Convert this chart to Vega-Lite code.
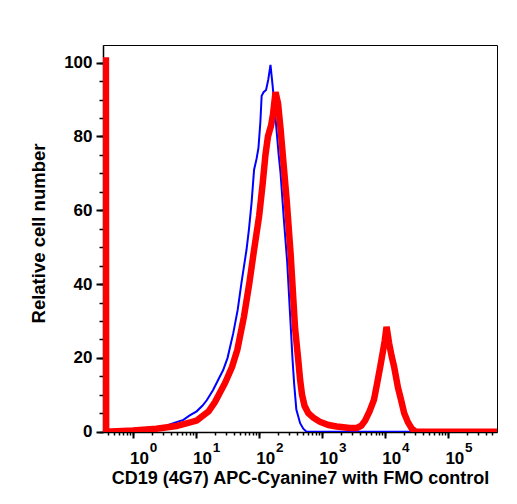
{
  "$schema": "https://vega.github.io/schema/vega-lite/v6.json",
  "width": 394,
  "height": 387,
  "autosize": {"type": "none"},
  "padding": {"left": 103, "top": 45, "right": 20, "bottom": 72},
  "background": "white",
  "config": {
    "font": "Liberation Sans",
    "view": {"stroke": "black", "strokeWidth": 1}
  },
  "datasets": {
    "fmo": [
      {"x": 0.34, "count": 0},
      {"x": 0.631, "count": 0.2},
      {"x": 1.445, "count": 0.9},
      {"x": 3.02, "count": 1.3},
      {"x": 4.365, "count": 2.3},
      {"x": 6.31, "count": 3.2},
      {"x": 7.943, "count": 4.4},
      {"x": 10.23, "count": 5.5},
      {"x": 12.59, "count": 7},
      {"x": 14.79, "count": 8.5},
      {"x": 18.62, "count": 11.3},
      {"x": 22.39, "count": 14},
      {"x": 26.92, "count": 16.7},
      {"x": 31.62, "count": 20},
      {"x": 38.9, "count": 26.7},
      {"x": 45.71, "count": 33},
      {"x": 52.48, "count": 40.3},
      {"x": 63.1, "count": 49.3},
      {"x": 69.18, "count": 55},
      {"x": 75.86, "count": 62},
      {"x": 83.18, "count": 71},
      {"x": 91.2, "count": 74},
      {"x": 97.72, "count": 77},
      {"x": 104.7, "count": 84},
      {"x": 109.6, "count": 91},
      {"x": 117.5, "count": 92},
      {"x": 128.8, "count": 92.6},
      {"x": 139.6, "count": 95.4},
      {"x": 151.4, "count": 99.4},
      {"x": 164.1, "count": 93.6},
      {"x": 177.8, "count": 87},
      {"x": 190.5, "count": 81},
      {"x": 204.2, "count": 75},
      {"x": 218.8, "count": 70},
      {"x": 245.5, "count": 58},
      {"x": 278.6, "count": 46},
      {"x": 309.0, "count": 32},
      {"x": 338.8, "count": 19.5},
      {"x": 358.9, "count": 13},
      {"x": 389.0, "count": 6},
      {"x": 446.7, "count": 2.3},
      {"x": 501.2, "count": 0.8},
      {"x": 562.3, "count": 0},
      {"x": 590000, "count": 0}
    ],
    "stained": [
      {"x": 0.3724, "count": 101.5},
      {"x": 0.3758, "count": 0},
      {"x": 1.0, "count": 0.3},
      {"x": 2.344, "count": 0.8},
      {"x": 4.898, "count": 1.5},
      {"x": 10.23, "count": 3},
      {"x": 15.85, "count": 5.5},
      {"x": 19.95, "count": 8},
      {"x": 28.84, "count": 13.2},
      {"x": 37.15, "count": 17.5},
      {"x": 45.19, "count": 22.2},
      {"x": 57.54, "count": 31.2},
      {"x": 69.98, "count": 40.3},
      {"x": 83.18, "count": 49.3},
      {"x": 100, "count": 58.4},
      {"x": 113.5, "count": 67},
      {"x": 125.9, "count": 75},
      {"x": 138.0, "count": 80},
      {"x": 154.9, "count": 83},
      {"x": 166.0, "count": 86},
      {"x": 182.0, "count": 92},
      {"x": 199.5, "count": 89},
      {"x": 218.8, "count": 82},
      {"x": 239.9, "count": 74},
      {"x": 275.4, "count": 62},
      {"x": 316.2, "count": 48},
      {"x": 371.5, "count": 28},
      {"x": 416.9, "count": 19.5},
      {"x": 446.7, "count": 14},
      {"x": 478.6, "count": 10},
      {"x": 524.8, "count": 7},
      {"x": 602.6, "count": 5},
      {"x": 724.4, "count": 3.8},
      {"x": 912.0, "count": 2.7},
      {"x": 1259, "count": 1.8},
      {"x": 1698, "count": 1.4},
      {"x": 2754, "count": 1.0},
      {"x": 3548, "count": 1.0},
      {"x": 4169, "count": 1.6},
      {"x": 4786, "count": 3},
      {"x": 5623, "count": 5.5},
      {"x": 6607, "count": 8.6},
      {"x": 7413, "count": 13},
      {"x": 8318, "count": 17.6},
      {"x": 9120, "count": 21.5},
      {"x": 9772, "count": 24.5},
      {"x": 10470, "count": 28.4},
      {"x": 11480, "count": 24},
      {"x": 12590, "count": 20.5},
      {"x": 13800, "count": 17.6},
      {"x": 15850, "count": 12},
      {"x": 17780, "count": 8.6},
      {"x": 19950, "count": 5},
      {"x": 22910, "count": 2.5},
      {"x": 26300, "count": 0.8},
      {"x": 30200, "count": 0},
      {"x": 590000, "count": 0}
    ]
  },
  "resolve": {
    "scale": {"x": "independent", "y": "independent"},
    "axis": {"x": "independent", "y": "independent"}
  },
  "layer": [
    {
      "data": {"name": "fmo"},
      "mark": {"type": "line", "color": "#0000ff", "strokeWidth": 2, "clip": true},
      "encoding": {
        "x": {
          "field": "x", "type": "quantitative",
          "scale": {"type": "log", "domain": [0.335, 590000], "nice": false},
          "axis": {
            "orient": "bottom",
            "values": [1, 10, 100, 1000, 10000, 100000],
            "labelExpr": "'10'",
            "tickSize": 6,
            "tickWidth": 2,
            "tickColor": "black",
            "domainColor": "black",
            "domainWidth": 1.5,
            "grid": false,
            "labelFontSize": 17,
            "labelFontWeight": "bold",
            "labelColor": "black",
            "labelBaseline": "alphabetic",
            "labelPadding": 25,
            "labelOffset": 6,
            "labelOverlap": false,
            "labelFlush": false,
            "title": "CD19 (4G7) APC-Cyanine7 with FMO control",
            "titleFontSize": 18,
            "titleFontWeight": "bold",
            "titleColor": "black",
            "titleBaseline": "alphabetic",
            "titleY": 51
          }
        },
        "y": {
          "field": "count", "type": "quantitative",
          "scale": {"domain": [-0.1, 104.8], "nice": false, "zero": false},
          "axis": {
            "orient": "left",
            "values": [0, 20, 40, 60, 80, 100],
            "tickSize": 7,
            "tickWidth": 2,
            "tickColor": "black",
            "domainColor": "black",
            "domainWidth": 1.5,
            "grid": false,
            "labelFontSize": 17,
            "labelFontWeight": "bold",
            "labelColor": "black",
            "labelPadding": 4,
            "labelOverlap": false,
            "labelFlush": false,
            "title": "Relative cell number",
            "titleFontSize": 18.5,
            "titleFontWeight": "bold",
            "titleColor": "black",
            "titlePadding": 15,
            "titleY": 188
          }
        }
      }
    },
    {
      "data": {"name": "stained"},
      "mark": {"type": "line", "color": "#ff0000", "strokeWidth": 6.5, "clip": true},
      "encoding": {
        "x": {
          "field": "x", "type": "quantitative",
          "scale": {"type": "log", "domain": [0.335, 590000], "nice": false},
          "axis": {
            "orient": "bottom",
            "values": [0.4,0.5,0.6,0.7,0.8,0.9,1,2,3,4,5,6,7,8,9,10,20,30,40,50,60,70,80,90,100,200,300,400,500,600,700,800,900,1000,2000,3000,4000,5000,6000,7000,8000,9000,10000,20000,30000,40000,50000,60000,70000,80000,90000,100000,200000,300000,400000,500000],
            "labelExpr": "abs(log(datum.value)/LN10 - round(log(datum.value)/LN10)) < 0.001 ? format(round(log(datum.value)/LN10), 'd') : ''",
            "ticks": true,
            "tickSize": 3,
            "tickWidth": 1.5,
            "tickColor": "black",
            "domain": false,
            "grid": false,
            "labelFontSize": 13.5,
            "labelFontWeight": "bold",
            "labelColor": "black",
            "labelBaseline": "alphabetic",
            "labelPadding": 16,
            "labelOffset": 20,
            "labelOverlap": false,
            "labelFlush": false,
            "title": null
          }
        },
        "y": {
          "field": "count", "type": "quantitative",
          "scale": {"domain": [-0.1, 104.8], "nice": false, "zero": false},
          "axis": {
            "orient": "left",
            "values": [0,5,10,15,20,25,30,35,40,45,50,55,60,65,70,75,80,85,90,95,100],
            "labels": false,
            "tickSize": 4,
            "tickWidth": 1.5,
            "tickColor": "black",
            "domain": false,
            "grid": false,
            "title": null
          }
        }
      }
    }
  ]
}
